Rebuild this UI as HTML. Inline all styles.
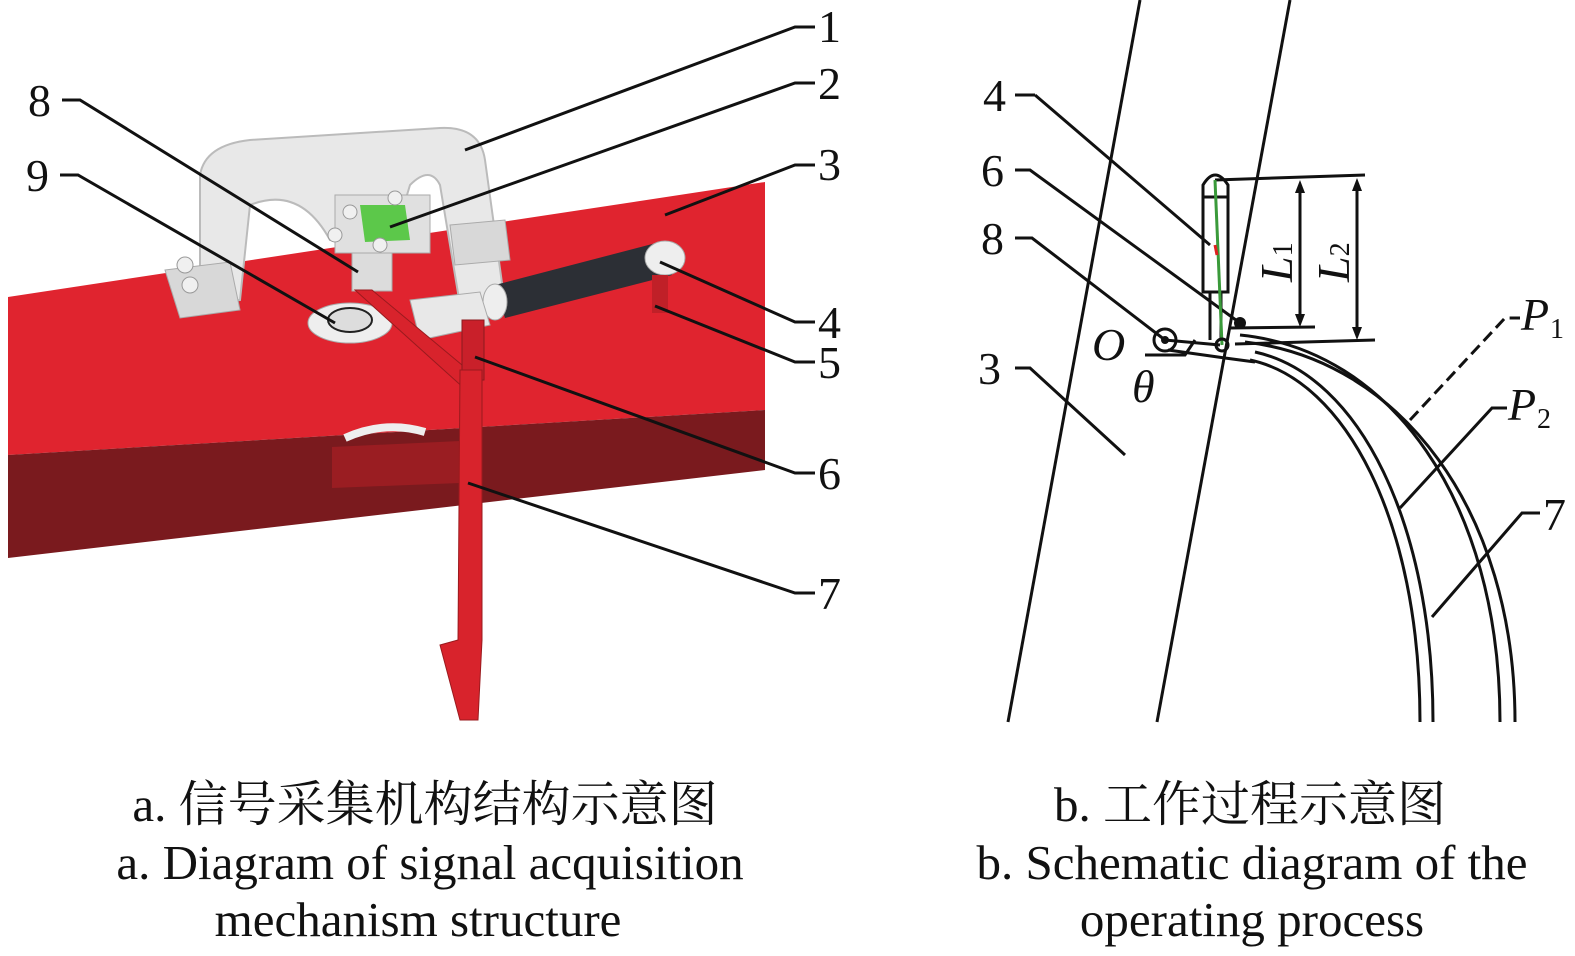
<!DOCTYPE html>
<html><head><meta charset="utf-8"><style>
html,body{margin:0;padding:0;background:#fff;}
svg{display:block}
text{font-family:"Liberation Serif","Noto Serif CJK SC",serif;fill:#111}
</style></head><body>
<svg width="1575" height="956" viewBox="0 0 1575 956" xmlns="http://www.w3.org/2000/svg">
<!-- LEFT PANEL -->
<polygon points="8,297 765,182 765,410 8,455" fill="#e0242f"/>
<polygon points="8,455 765,410 765,470 8,558" fill="#7a1a1e"/>
<polygon points="332,447 460,441 460,483 332,488" fill="#9a1d22"/>
<path d="M345,438 Q385,420 425,432" stroke="#eee" stroke-width="8" fill="none"/>
<!-- bracket -->
<path d="M200,175 Q205,145 250,140 L440,128 Q480,126 485,160 L505,305 L460,305 L440,185 Q430,165 410,185 L395,235 L330,240 Q300,185 250,205 L240,300 L200,305 Z" fill="#e8e8e8" stroke="#bbb" stroke-width="2"/>
<path d="M165,270 L230,262 L240,310 L180,318 Z" fill="#d8d8d8" stroke="#aaa"/>
<path d="M450,225 L505,220 L510,260 L455,265 Z" fill="#d8d8d8" stroke="#aaa"/>
<rect x="335" y="195" width="95" height="58" fill="#e0e0e0" stroke="#aaa"/>
<path d="M360,205 L405,205 L410,240 L365,242 Z" fill="#5cc84a"/>
<circle cx="350" cy="212" r="7" fill="#f0f0f0" stroke="#999"/><circle cx="395" cy="198" r="7" fill="#f0f0f0" stroke="#999"/>
<circle cx="335" cy="235" r="7" fill="#f0f0f0" stroke="#999"/><circle cx="380" cy="245" r="7" fill="#f0f0f0" stroke="#999"/>
<circle cx="185" cy="265" r="8" fill="#f0f0f0" stroke="#999"/><circle cx="190" cy="285" r="8" fill="#f0f0f0" stroke="#999"/>
<rect x="352" y="253" width="40" height="38" fill="#dcdcdc" stroke="#aaa"/>
<ellipse cx="350" cy="323" rx="42" ry="20" fill="#eee" stroke="#aaa"/>
<ellipse cx="350" cy="320" rx="22" ry="12" fill="#ddd" stroke="#222" stroke-width="2"/>
<path d="M495,285 L660,242 L672,275 L505,318 Z" fill="#2c2f35"/>
<ellipse cx="665" cy="258" rx="20" ry="17" fill="#eee" stroke="#aaa"/>
<ellipse cx="495" cy="302" rx="12" ry="18" fill="#eee" stroke="#aaa"/>
<path d="M410,300 L480,292 L490,325 L420,340 Z" fill="#e8e8e8" stroke="#aaa"/>
<rect x="652" y="275" width="16" height="38" fill="#c02028"/>
<polygon points="355,290 372,290 480,380 466,390" fill="#d8232c" stroke="#9a1a1e"/>
<rect x="462" y="320" width="22" height="60" fill="#c9202a" stroke="#8a1a1e"/>
<polygon points="460,370 482,370 482,640 478,720 460,720 440,645 458,640" fill="#d8232c" stroke="#9a1a1e"/>
<g stroke="#111" stroke-width="3" fill="none">
<polyline points="465,150 795,27 815,27"/>
<polyline points="390,227 795,83 815,83"/>
<polyline points="665,215 795,165 815,165"/>
<polyline points="660,262 795,322 815,322"/>
<polyline points="655,306 795,362 815,362"/>
<polyline points="475,357 795,473 815,473"/>
<polyline points="468,483 795,593 815,593"/>
<polyline points="62,100 80,100 358,272"/>
<polyline points="60,175 78,175 335,323"/>
</g>
<g font-size="46">
<text x="818" y="42">1</text><text x="818" y="99">2</text><text x="818" y="180">3</text>
<text x="818" y="338">4</text><text x="818" y="378">5</text><text x="818" y="489">6</text>
<text x="818" y="609">7</text><text x="28" y="116">8</text><text x="26" y="191">9</text>
</g>
<!-- RIGHT PANEL -->
<g stroke="#111" stroke-width="3" fill="none">
<line x1="1008" y1="722" x2="1140" y2="0"/>
<line x1="1157" y1="722" x2="1290" y2="0"/>
<rect x="1203" y="197" width="25" height="95"/>
<path d="M1203,197 L1203,185 Q1215,165 1228,185 L1228,197"/>
<line x1="1210" y1="292" x2="1210" y2="340"/><line x1="1221" y1="292" x2="1221" y2="340"/>
<line x1="1215" y1="180" x2="1365" y2="175"/>
<line x1="1230" y1="328" x2="1315" y2="327"/>
<line x1="1235" y1="344" x2="1375" y2="340"/>
<line x1="1300" y1="185" x2="1300" y2="322"/>
<line x1="1357" y1="182" x2="1357" y2="335"/>
<path d="M1165,340 L1220,345 M1168,350 L1225,358 L1255,362"/>
<path d="M1145,355 L1185,355 L1195,340"/>
<path d="M1250,360 C1345,380 1420,520 1420,722"/>
<path d="M1255,352 C1360,375 1433,525 1433,722"/>
<path d="M1240,335 C1390,350 1500,500 1500,722"/>
<path d="M1245,342 C1400,360 1515,510 1515,722"/>
<polyline points="1035,95 1210,245"/>
<polyline points="1015,170 1030,170 1240,323"/>
<polyline points="1015,238 1032,238 1165,340"/>
<polyline points="1015,368 1030,368 1125,455"/>
<polyline points="1410,420 1505,318 1520,318" stroke-dasharray="12,6"/>
<polyline points="1400,508 1492,408 1507,408"/>
<polyline points="1432,617 1522,513 1540,513"/>
<line x1="1015" y1="95" x2="1035" y2="95"/>
</g>
<line x1="1215" y1="180" x2="1222" y2="345" stroke="#3a9a3a" stroke-width="3"/>
<line x1="1215" y1="245" x2="1217" y2="255" stroke="#e02020" stroke-width="3"/>
<circle cx="1165" cy="340" r="11" fill="none" stroke="#111" stroke-width="3"/><circle cx="1165" cy="340" r="4" fill="#111"/>
<circle cx="1222" cy="345" r="6" fill="none" stroke="#111" stroke-width="3"/>
<circle cx="1240" cy="323" r="6" fill="#111"/>
<polygon points="1300,180 1295,193 1305,193" fill="#111"/><polygon points="1300,327 1295,314 1305,314" fill="#111"/>
<polygon points="1357,178 1352,191 1362,191" fill="#111"/><polygon points="1357,340 1352,327 1362,327" fill="#111"/>
<g font-size="46">
<text x="983" y="111">4</text><text x="981" y="186">6</text><text x="981" y="254">8</text><text x="978" y="384">3</text>
<text x="1092" y="360" font-style="italic">O</text><text x="1132" y="402" font-style="italic">θ</text>
<text x="1521" y="330" font-style="italic">P</text><text x="1550" y="338" font-size="28">1</text>
<text x="1508" y="420" font-style="italic">P</text><text x="1537" y="428" font-size="28">2</text>
<text x="1543" y="530">7</text>
<text transform="translate(1292,282) rotate(-90)" font-style="italic">L<tspan font-size="28" font-style="normal">1</tspan></text>
<text transform="translate(1349,282) rotate(-90)" font-style="italic">L<tspan font-size="28" font-style="normal">2</tspan></text>
</g>
<g font-size="49" text-anchor="middle">
<text x="425" y="821">a. 信号采集机构结构示意图</text>
<text x="430" y="879">a. Diagram of signal acquisition</text>
<text x="418" y="936">mechanism structure</text>
<text x="1250" y="821">b. 工作过程示意图</text>
<text x="1252" y="879">b. Schematic diagram of the</text>
<text x="1252" y="936">operating process</text>
</g>
</svg>
</body></html>
